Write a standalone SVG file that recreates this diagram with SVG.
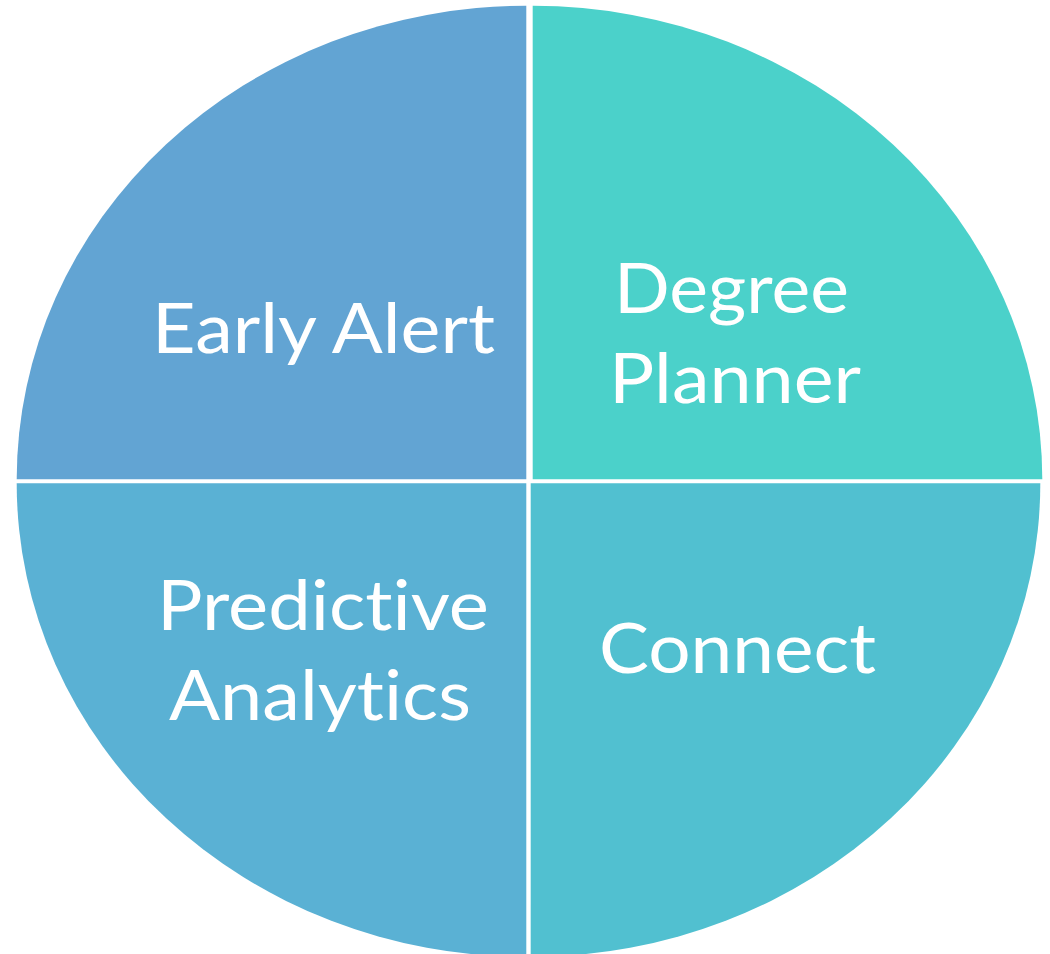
<svg xmlns="http://www.w3.org/2000/svg" width="1050" height="954" viewBox="0 0 1050 954">
  <style>
    .lbl { font-family: Lato, "Open Sans", "Liberation Sans", sans-serif; font-size: 70px; fill: #ffffff; text-anchor: middle; font-variant-ligatures: none; font-feature-settings: "liga" 0, "clig" 0, "dlig" 0; }
  </style>
  <rect width="1050" height="954" fill="#ffffff"/>
  <g id="early-alert">
    <path d="M 526.3 479.3 L 16.7 479.3 A 509.6 473.5 0 0 1 526.3 5.8 Z" fill="#62A4D3"/>
    <text class="lbl" x="323.5" y="353" textLength="343" lengthAdjust="spacingAndGlyphs">Early Alert</text>
  </g>
  <g id="degree-planner">
    <path d="M 532.7 479.3 L 532.7 5.8 A 509.6 473.5 0 0 1 1042.3 479.3 Z" fill="#4BD1CA"/>
    <text class="lbl" x="731.5" y="313" textLength="235" lengthAdjust="spacingAndGlyphs">Degree</text>
    <text class="lbl" x="735" y="403" textLength="252" lengthAdjust="spacingAndGlyphs">Planner</text>
  </g>
  <g id="predictive-analytics">
    <path d="M 526.3 483.3 L 526.3 956.8 A 509.6 473.5 0 0 1 16.7 483.3 Z" fill="#5AB1D4"/>
    <text class="lbl" x="323" y="630" textLength="332" lengthAdjust="spacingAndGlyphs">Predictive</text>
    <text class="lbl" x="320" y="720" textLength="302" lengthAdjust="spacingAndGlyphs">Analytics</text>
  </g>
  <g id="connect">
    <path d="M 530.7 483.3 L 1040.3 483.3 A 509.6 473.5 0 0 1 530.7 956.8 Z" fill="#51C0D0"/>
    <text class="lbl" x="737.5" y="673" textLength="277" lengthAdjust="spacingAndGlyphs">Connect</text>
  </g>
  <g id="connectors"/>
</svg>
